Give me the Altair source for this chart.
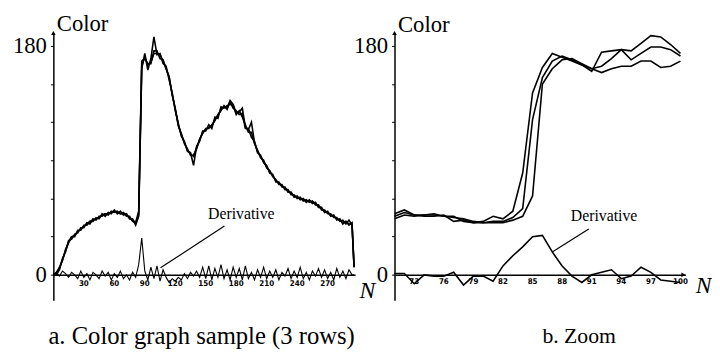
import altair as alt
import pandas as pd

# ---------------- Left panel: colour profile of 3 rows (step 3 in N) ----------------
N_LEFT = list(range(0, 295, 3)) + [296]

ROW_A = [0, 2, 6, 11, 20, 25, 30, 30, 35, 35,
         39, 39, 42, 42, 45, 44, 48, 46, 49, 48,
         51, 48, 50, 47, 48, 44, 44, 39, 46, 162,
         174, 161, 170, 187, 173, 174, 166, 164, 153, 143,
         129, 119, 109, 105, 97, 96, 86, 101, 105, 113,
         113, 118, 115, 124, 123, 132, 131, 133, 134, 133,
         126, 129, 124, 118, 112, 112, 103, 98, 92, 90,
         84, 82, 77, 75, 71, 71, 67, 67, 63, 63,
         60, 61, 58, 59, 57, 58, 55, 55, 51, 51,
         48, 48, 45, 45, 42, 43, 40, 43, 39, 7]

ROW_B = [1, 0, 4, 13, 18, 27, 28, 32, 33, 37,
         37, 41, 40, 44, 43, 46, 46, 48, 47, 50,
         49, 50, 48, 49, 46, 46, 42, 41, 50, 168,
         170, 166, 166, 176, 176, 170, 169, 162, 156, 141,
         131, 117, 111, 103, 99, 94, 94, 99, 107, 111,
         115, 115, 118, 121, 126, 129, 133, 130, 136, 131,
         129, 126, 127, 115, 115, 108, 105, 96, 94, 88,
         86, 80, 79, 73, 73, 69, 69, 65, 65, 61,
         62, 59, 60, 57, 59, 56, 57, 53, 53, 49,
         50, 46, 47, 43, 44, 40, 42, 39, 41, 6]

ROW_C = [0, 1, 5, 12, 19, 26, 30, 31, 34, 36,
         38, 40, 42, 43, 44, 45, 47, 48, 48, 49,
         50, 49, 48, 48, 47, 45, 43, 41, 47, 164,
         171, 165, 167, 174, 174, 173, 168, 162, 155, 142,
         130, 118, 110, 104, 98, 95, 93, 100, 106, 112,
         114, 116, 117, 122, 125, 130, 132, 131, 137, 134,
         127, 128, 131, 116, 114, 120, 104, 97, 93, 89,
         85, 81, 78, 74, 72, 70, 68, 66, 64, 62,
         61, 60, 59, 58, 58, 57, 56, 54, 52, 50,
         49, 47, 46, 44, 43, 41, 42, 40, 40, 6]

DERIV_LEFT = [0, 2, -1, 3, 1, -2, 2, 0, -3, 3,
              -2, 1, -4, 2, 0, -3, 3, -1, 2, -4,
              1, -2, 3, -3, 0, -4, 2, -2, 8, 29,
              3, -4, 6, -3, 7, -5, 4, -2, -6, -3,
              -5, -2, -4, 1, -3, 2, -1, 3, -2, 6,
              -3, 7, -4, 5, -2, 8, -3, 4, -4, 6,
              -2, 5, -4, 7, -3, 2, -4, 4, -2, 6,
              -3, 3, -2, 4, -4, 2, -1, 5, -3, 3,
              -2, 6, -3, 2, -4, 3, -1, 5, -2, 4,
              -3, 2, -4, 5, -2, 3, -3, 4, 0, 0]

LEFT_TICKS = [30, 60, 90, 120, 150, 180, 210, 240, 270]

# ---------------- Right panel: zoom on N = 71..100 ----------------
N_RIGHT = list(range(71, 101))

ZOOM_A = [48, 51, 47, 47, 47, 46, 46, 42, 41, 42, 46, 44, 50, 80, 143,
          163, 174, 171, 168, 165, 160, 175, 176, 177, 176, 182, 188, 187, 181, 174]
ZOOM_B = [46, 49, 47, 46, 46, 47, 42, 43, 41, 41, 42, 42, 45, 52, 122,
          155, 168, 172, 169, 165, 162, 164, 170, 177, 169, 174, 179, 179, 177, 172]
ZOOM_C = [44, 47, 46, 47, 48, 46, 45, 44, 42, 41, 41, 41, 43, 46, 62,
          150, 162, 169, 170, 166, 162, 159, 162, 164, 164, 168, 168, 163, 164, 168]
DERIV_RIGHT = [1, 1, -7, 0, -1, -1, 2, -8, -1, -1, -5, 7, 15, 22, 30,
               31, 18, 7, -1, -6, 0, 2, 4, -3, -1, 6, 2, -4, -5, -6]

RIGHT_TICKS = [73, 76, 79, 82, 85, 88, 91, 94, 97, 100]

# annotation anchors (data coordinates)
LEFT_LABEL = {"N": 185, "v": 47.7, "t": "Derivative"}
LEFT_LEADER = {"N": 168.4, "v": 38.3, "N2": 105.5, "v2": 5.5}
RIGHT_LABEL = {"N": 92.25, "v": 46.5, "t": "Derivative"}
RIGHT_LEADER = {"N": 90.7, "v": 36.0, "N2": 87.0, "v2": 18.0}

Y_DOMAIN = [-20, 190]
Y_TICKS = [0, 30, 60, 90, 120, 150, 180]
LEFT_DOMAIN = [0, 297]
RIGHT_DOMAIN = [71, 100.5]

H = 271
LW = 306
RW = 295
ZERO_OFF = -H * 20 / 210

SERIF = "Liberation Serif"
NARROW = "Liberation Sans Narrow, DejaVu Sans Condensed, sans-serif"


def long_df(n, series):
    rows = []
    for name, vals in series.items():
        for a, b in zip(n, vals):
            rows.append({"N": a, "v": b, "s": name})
    return pd.DataFrame(rows)


def y_axis(title_y):
    return alt.Axis(
        values=Y_TICKS,
        labelExpr="datum.value == 0 || datum.value == 180 ? datum.label : ''",
        title="Color", titleX=3, titleY=title_y, titleAngle=0,
        titleAlign="left", titleBaseline="middle",
        titleFont=SERIF, titleFontSize=23, titleFontWeight="normal", titleColor="black",
        labelFont=SERIF, labelFontSize=23, labelColor="black", labelPadding=4,
        labelBaseline="middle",
        tickSize=3, tickColor="black", tickWidth=1,
        domainColor="black", domainWidth=1.5, grid=False,
    )


def x_axis(width, title_dx, title_dy):
    return alt.Axis(
        values=[], offset=ZERO_OFF, labels=False,
        domainColor="black", domainWidth=1.5, ticks=False, grid=False,
        title="N", titleX=width + title_dx, titleY=title_dy,
        titleAlign="left", titleBaseline="middle",
        titleFont=SERIF, titleFontStyle="italic", titleFontSize=24,
        titleFontWeight="normal", titleColor="black",
    )


def panel(n, rows, deriv, domain, ticks, width, label, leader, caption, cap_dx,
          cap_off, cap_size, lab_pad, t_dx, t_dy, title_y, row_w, der_w, x_arrow):
    xs = alt.Scale(domain=domain, nice=False, zero=False)
    ys = alt.Scale(domain=Y_DOMAIN, nice=False, zero=False)
    rows_df = long_df(n, rows)
    der_df = pd.DataFrame({"N": n, "v": deriv})

    base_rows = alt.Chart(rows_df).mark_line(color="black", strokeWidth=row_w).encode(
        x=alt.X("N:Q", scale=xs, axis=x_axis(width, t_dx, t_dy)),
        y=alt.Y("v:Q", scale=ys, axis=y_axis(title_y)),
        detail="s:N",
    )
    der = alt.Chart(der_df).mark_line(color="black", strokeWidth=der_w).encode(
        x=alt.X("N:Q"),
        y=alt.Y("v:Q"),
    )
    tick_lbl = alt.Chart(pd.DataFrame({"N": ticks, "v": [0] * len(ticks)})).mark_text(
        font=NARROW, fontSize=8, fontWeight="bold", color="black",
        baseline="top", dy=lab_pad,
    ).encode(
        x=alt.X("N:Q"),
        y=alt.Y("v:Q"),
        text=alt.Text("N:Q", format="d"),
    )
    txt = alt.Chart(pd.DataFrame([label])).mark_text(
        font=SERIF, fontSize=16, color="black"
    ).encode(
        x=alt.X("N:Q"),
        y=alt.Y("v:Q"),
        text="t:N",
    )
    lead = alt.Chart(pd.DataFrame([leader])).mark_rule(color="black", strokeWidth=1.2).encode(
        x=alt.X("N:Q"), x2="N2:Q",
        y=alt.Y("v:Q"), y2="v2:Q",
    )
    yarrow = alt.Chart(pd.DataFrame({"N": [domain[0]], "v": [Y_DOMAIN[1]]})).mark_point(
        shape="triangle-up", filled=True, color="black", size=22, opacity=1
    ).encode(
        x=alt.X("N:Q"),
        y=alt.Y("v:Q"),
    )
    layers = [base_rows, der, tick_lbl, txt, lead, yarrow]
    if x_arrow:
        xarrow = alt.Chart(pd.DataFrame({"N": [domain[1] - 0.2], "v": [0]})).mark_point(
            shape="triangle-right", filled=True, color="black", size=22, opacity=1
        ).encode(
            x=alt.X("N:Q"),
            y=alt.Y("v:Q"),
        )
        layers.append(xarrow)
    return alt.layer(*layers).properties(
        width=width, height=H,
        title=alt.TitleParams(
            caption, orient="bottom", anchor="start", frame="group", dx=cap_dx,
            offset=cap_off, font=SERIF, fontSize=cap_size, fontWeight="normal",
            color="black",
        ),
    )


left = panel(N_LEFT, {"a": ROW_A, "b": ROW_B, "c": ROW_C}, DERIV_LEFT, LEFT_DOMAIN,
             LEFT_TICKS, LW, LEFT_LABEL, LEFT_LEADER, "a. Color graph sample (3 rows)",
             -5, 22, 25, 5, 4, 16, -10, 1.6, 1.1, False)
right = panel(N_RIGHT, {"a": ZOOM_A, "b": ZOOM_B, "c": ZOOM_C}, DERIV_RIGHT, RIGHT_DOMAIN,
              RIGHT_TICKS, RW, RIGHT_LABEL, RIGHT_LEADER, "b. Zoom",
              150, 26.5, 22, 3, 10, 11, -8.5, 1.6, 1.6, True)

chart = alt.hconcat(left, right, spacing=40, bounds="flush").properties(
    padding={"left": 4, "top": 2, "right": 0, "bottom": 0},
    background="white",
).configure_view(stroke=None)

chart.save("out.html", embed_options={"renderer": "svg", "actions": False})
